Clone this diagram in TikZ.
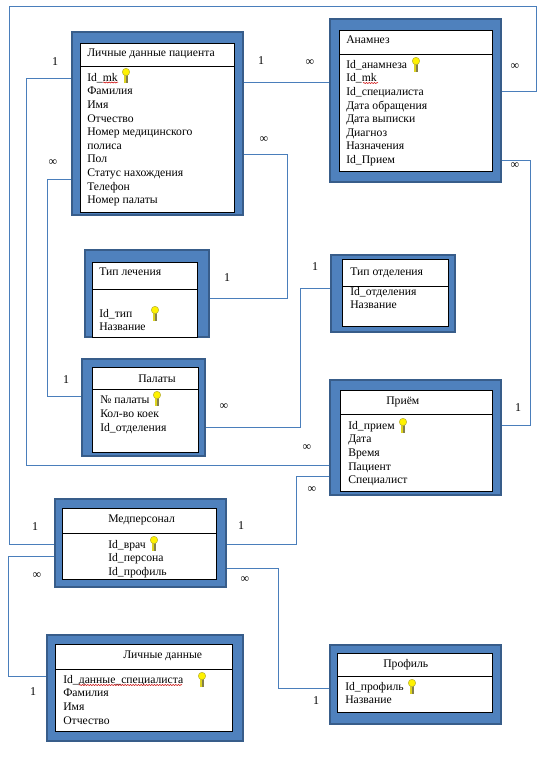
\documentclass[tikz,border=0pt]{standalone}
\usepackage{fontspec}
\setmainfont{Liberation Serif}
\usepackage{xcolor}
\usepackage{tikz}
\usetikzlibrary{fit, decorations.pathmorphing}

\definecolor{boxblue}{HTML}{4F81BD}
\definecolor{boxedge}{HTML}{385D8A}
\definecolor{linkblue}{HTML}{4A7EBB}

\begin{document}
\begin{tikzpicture}[
        x=0.75pt, y=-0.75pt,
        outerbox/.style={rectangle, draw=boxedge, fill=boxblue, line width=1.5pt, inner sep=-0.75pt},
        innerbox/.style={rectangle, draw=black, fill=white, line width=0.75pt, inner sep=0pt, xshift=0.375pt, yshift=-0.375pt},
        divider/.style={draw=black, line width=0.75pt, yshift=-0.375pt},
        titletext/.style={anchor=base west, inner sep=0pt, font=\fontsize{8.75pt}{10.2pt}\selectfont},
        fieldtext/.style={anchor=north west, yshift=6pt, inner sep=0pt, align=left, font=\fontsize{8.75pt}{10.2pt}\selectfont},
        card/.style={inner sep=0pt, font=\fontsize{9pt}{10.2pt}\selectfont},
        link/.style={draw=linkblue, line width=0.75pt, xshift=0.375pt, yshift=-0.375pt},
        softlink/.style={draw=linkblue, line width=0.75pt},
        squiggle/.style={draw=red!80!black, line width=0.4pt, decorate, decoration={snake, amplitude=0.4pt, segment length=2pt}},
        keyicon/.pic={
            \fill[yellow!45!black] (-1.6,4) rectangle (1.6,15);
            \fill[yellow!85!black] (-1.6,4) rectangle (0,15);
            \filldraw[fill=yellow, draw=yellow!70!black, line width=0.4pt] (0,4) circle (3.7);
        }
    ]
    \useasboundingbox (0,0) rectangle (549,757);

    % boxes
    \node (patient) [outerbox, fit={(71,31) (244,216)}] {};
    \node (patientin) [innerbox, fit={(80,43) (234,212)}] {};
    \draw[divider] (patientin.west |- 0,66) -- (patientin.east |- 0,66);
    \node (patienttitle) [titletext] at (87,56) {Личные данные пациента};
    \node (patientfields) [fieldtext] at (87,81) {Id\_mk\\Фамилия\\Имя\\Отчество\\Номер медицинского\\полиса\\Пол\\Статус нахождения\\Телефон\\Номер палаты};

    \node (anamnez) [outerbox, fit={(329,18) (502,183)}] {};
    \node (anamnezin) [innerbox, fit={(339,30) (492,171)}] {};
    \draw[divider] (anamnezin.west |- 0,54) -- (anamnezin.east |- 0,54);
    \node (anamneztitle) [titletext] at (346,43) {Анамнез};
    \node (anamnezfields) [fieldtext] at (346,68) {Id\_анамнеза\\Id\_mk\\Id\_специалиста\\Дата обращения\\Дата выписки\\Диагноз\\Назначения\\Id\_Прием};

    \node (treatment) [outerbox, fit={(84,249) (210,338)}] {};
    \node (treatmentin) [innerbox, fit={(92,262) (197,337)}] {};
    \draw[divider] (treatmentin.west |- 0,289) -- (treatmentin.east |- 0,289);
    \node (treatmenttitle) [titletext] at (99,275) {Тип лечения};
    \node (treatmentfields) [fieldtext] at (99,317) {Id\_тип\\Название};

    \node (ward) [outerbox, fit={(81,358) (206,457)}] {};
    \node (wardin) [innerbox, fit={(92,367) (198,452)}] {};
    \draw[divider] (wardin.west |- 0,389) -- (wardin.east |- 0,389);
    \node (wardtitle) [titletext] at (138,382) {Палаты};
    \node (wardfields) [fieldtext] at (100,404) {№ палаты\\Кол-во коек\\Id\_отделения};

    \node (depart) [outerbox, fit={(330,254) (456,333)}] {};
    \node (departin) [innerbox, fit={(342,259) (448,326)}] {};
    \draw[divider] (departin.west |- 0,286) -- (departin.east |- 0,286);
    \node (departtitle) [titletext] at (350,275) {Тип отделения};
    \node (departfields) [fieldtext] at (350,295) {Id\_отделения\\Название};

    \node (visit) [outerbox, fit={(329,379) (502,496)}] {};
    \node (visitin) [innerbox, fit={(340,390) (492,491)}] {};
    \draw[divider] (visitin.west |- 0,414) -- (visitin.east |- 0,414);
    \node (visittitle) [titletext] at (386,404) {Приём};
    \node (visitfields) [fieldtext] at (348,429) {Id\_прием\\Дата\\Время\\Пациент\\Специалист};

    \node (staff) [outerbox, fit={(54,498) (227,588)}] {};
    \node (staffin) [innerbox, fit={(62,508) (216,579)}] {};
    \draw[divider] (staffin.west |- 0,533) -- (staffin.east |- 0,533);
    \node (stafftitle) [titletext] at (108,522) {Медперсонал};
    \node (stafffields) [fieldtext] at (108,548) {Id\_врач\\Id\_персона\\Id\_профиль};

    \node (personal) [outerbox, fit={(46,634) (244,742)}] {};
    \node (personalin) [innerbox, fit={(55,644) (232,731)}] {};
    \draw[divider] (personalin.west |- 0,669) -- (personalin.east |- 0,669);
    \node (personaltitle) [titletext] at (123,658) {Личные данные};
    \node (personalfields) [fieldtext] at (63,683) {Id\_данные\_специалиста\\Фамилия\\Имя\\Отчество};

    \node (profile) [outerbox, fit={(329,644) (502,725)}] {};
    \node (profilein) [innerbox, fit={(337,653) (492,712)}] {};
    \draw[divider] (profilein.west |- 0,676) -- (profilein.east |- 0,676);
    \node (profiletitle) [titletext] at (383,667) {Профиль};
    \node (profilefields) [fieldtext] at (345,690) {Id\_профиль\\Название};

    % keys
    \pic at (126,68) {keyicon};
    \pic at (416,57) {keyicon};
    \pic at (155,306) {keyicon};
    \pic at (157,391) {keyicon};
    \pic at (403,418) {keyicon};
    \pic at (154,536) {keyicon};
    \pic at (202,672) {keyicon};
    \pic at (412,679) {keyicon};

    % spelling marks
    \draw[squiggle] (103,82.5) -- (118,82.5);
    \draw[squiggle] (363,83) -- (378,83);
    \draw[squiggle] (79,685) -- (182,685);

    % connectors
    \draw[link] (patient.east |- 0,82) -- (anamnez.west |- 0,82);
    \draw[softlink] (staff.west |- 0,544) -- (9,544) -- (9,6) -- (536,6) -- (536,91) -- (anamnez.east |- 0,91);
    \draw[softlink] (patient.west |- 0,78) -- (26,78) -- (26,465) -- (visit.west |- 0,465);
    \draw[softlink] (patient.west |- 0,179) -- (47,179) -- (47,396) -- (ward.west |- 0,396);
    \draw[softlink] (patient.east |- 0,154) -- (287,154) -- (287,298) -- (treatment.east |- 0,298);
    \draw[link] (ward.east |- 0,427) -- (300,427) -- (300,288) -- (depart.west |- 0,288);
    \draw[link] (anamnez.east |- 0,160) -- (530,160) -- (530,425) -- (visit.east |- 0,425);
    \draw[softlink] (staff.east |- 0,544) -- (296,544) -- (296,476) -- (visit.west |- 0,476);
    \draw[link] (staff.west |- 0,556) -- (8,556) -- (8,676) -- (personal.west |- 0,676);
    \draw[link] (staff.east |- 0,568) -- (278,568) -- (278,688) -- (profile.west |- 0,688);

    % cardinalities
    \node (c1) [card] at (55,62) {1};
    \node (c2) [card] at (53,163) {∞};
    \node (c3) [card] at (261,61) {1};
    \node (c4) [card] at (264,140) {∞};
    \node (c5) [card] at (310,63) {∞};
    \node (c6) [card] at (515,67) {∞};
    \node (c7) [card] at (515,166) {∞};
    \node (c8) [card] at (227,278) {1};
    \node (c9) [card] at (315,267) {1};
    \node (c10) [card] at (66,380) {1};
    \node (c11) [card] at (224,407) {∞};
    \node (c12) [card] at (518,408) {1};
    \node (c13) [card] at (307,448) {∞};
    \node (c14) [card] at (312,490) {∞};
    \node (c15) [card] at (35,527) {1};
    \node (c16) [card] at (241,526) {1};
    \node (c17) [card] at (37,576) {∞};
    \node (c18) [card] at (245,580) {∞};
    \node (c19) [card] at (33,692) {1};
    \node (c20) [card] at (316,701) {1};

\end{tikzpicture}
\end{document}
